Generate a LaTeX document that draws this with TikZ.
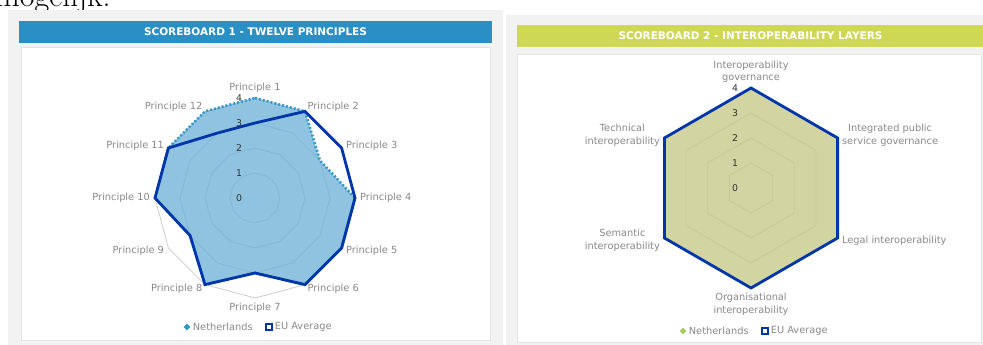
\documentclass[tikz,border=0pt]{standalone}
\usepackage{fontspec}
\setsansfont{DejaVu Sans}
\usepackage{tikz}
\usetikzlibrary{calc,positioning,shapes.geometric}
\definecolor{panelgray}{RGB}{242,242,242}
\definecolor{bluebar}{RGB}{41,143,196}
\definecolor{greenbar}{RGB}{206,216,84}
\definecolor{eublue}{RGB}{0,54,170}
\definecolor{nlblue}{RGB}{51,153,204}
\definecolor{nlbluefill}{RGB}{106,176,214}
\definecolor{nlgreen}{RGB}{168,204,100}
\definecolor{nlgreenfill}{RGB}{196,200,130}
\definecolor{labgray}{RGB}{137,137,137}
\definecolor{ringgray}{RGB}{205,205,205}
\tikzset{
  panel/.style={fill=panelgray, draw=none},
  inner/.style={fill=white, draw=black!10, line width=1pt},
  header/.style={text=white, font=\sffamily\bfseries\fontsize{10.5}{12}\selectfont, inner sep=0pt},
  lab/.style={text=labgray, font=\sffamily\fontsize{9.8}{12.5}\selectfont, inner sep=0pt, align=center},
  ticklab/.style={text=black!80, font=\sffamily\fontsize{9.3}{10}\selectfont, inner sep=0pt},
  ring/.style={draw=ringgray, line width=0.8pt},
  euline/.style={draw=eublue, line width=2.8pt},
  nlline/.style={draw=nlblue, line width=2.6pt, dash pattern=on 2pt off 2pt},
  nlmark/.style={diamond, fill=#1, inner sep=0pt, minimum size=7pt},
  eumark/.style={rectangle, draw=eublue, fill=white, line width=1.8pt, inner sep=0pt, minimum size=6pt}
}
\begin{document}
\begin{tikzpicture}[x=1pt,y=1pt]
\useasboundingbox (0,0) rectangle (983,345);
\fill[white] (0,0) rectangle (983,345);
\node (txt) [anchor=base west, inner sep=0pt] at (-5,338) {\fontsize{32}{38}\selectfont mogelijk.};
% scoreboard 1
\fill[panel] (8,0) rectangle (503,335);
\fill[bluebar] (19,302) rectangle (492,324);
\node (h1) [header] at (255.5,313) {SCOREBOARD 1 - TWELVE PRINCIPLES};
\filldraw[inner] (21,4) rectangle (490,297);
\coordinate (cl) at (255,147);
\foreach \k in {1,...,4}
  \draw[ring] ($(cl)+(90:{25*\k})$) \foreach \j in {1,...,11}{-- ($(cl)+({90-30*\j}:{25*\k})$)} -- cycle;
\foreach \v [count=\i] in {4,4,3,4,4,4,3,4,3,4,4,4}
  \coordinate (nl\i) at ($(cl)+({90-30*(\i-1)}:{25*\v})$);
\foreach \v [count=\i] in {3,4,4,4,4,4,3,4,3,4,4,3}
  \coordinate (eu\i) at ($(cl)+({90-30*(\i-1)}:{25*\v})$);
\fill[nlbluefill, fill opacity=0.75] (nl1) \foreach \i in {2,...,12}{-- (nl\i)} -- cycle;
\draw[nlline] (nl1) \foreach \i in {2,...,12}{-- (nl\i)} -- cycle;
\draw[euline] (eu1) \foreach \i in {2,...,12}{-- (eu\i)} -- cycle;
\foreach \k in {0,...,4}
  \node (tl\k) [ticklab] at ($(cl)+(-16,25*\k)$) {\k};
\foreach \i/\a in {1/south,2/west,3/west,4/west,5/west,6/west,7/north,8/east,9/east,10/east,11/east,12/east}
  \node (pr\i) [lab, anchor=\a] at ($(cl)+({90-30*(\i-1)}:105)$) {Principle \i};
\node (lm1) [nlmark=nlblue] at (187,18) {};
\node (lt1) [lab, right=2pt of lm1] {Netherlands};
\node (lm2) [eumark, right=12pt of lt1] {};
\node (lt2) [lab, right=2pt of lm2] {EU Average};
% scoreboard 2
\fill[panel] (506,0) rectangle (983,330);
\fill[greenbar] (517,298) rectangle (983,320);
\node (h2) [header] at (750.5,309) {SCOREBOARD 2 - INTEROPERABILITY LAYERS};
\filldraw[inner] (517,2) rectangle (981,290);
\coordinate (cr) at (751,157);
\foreach \k in {1,...,4}
  \draw[ring] ($(cr)+(90:{25*\k})$) \foreach \j in {1,...,5}{-- ($(cr)+({90-60*\j}:{25*\k})$)} -- cycle;
\foreach \v [count=\i] in {4,4,4,4,4,4}
  \coordinate (nr\i) at ($(cr)+({90-60*(\i-1)}:{25*\v})$);
\foreach \v [count=\i] in {4,4,4,4,4,4}
  \coordinate (er\i) at ($(cr)+({90-60*(\i-1)}:{25*\v})$);
\fill[nlgreenfill, fill opacity=0.75] (nr1) \foreach \i in {2,...,6}{-- (nr\i)} -- cycle;
\draw[euline] (er1) \foreach \i in {2,...,6}{-- (er\i)} -- cycle;
\foreach \k in {0,...,4}
  \node (tr\k) [ticklab] at ($(cr)+(-16,25*\k)$) {\k};
\foreach \i/\a/\t in {1/south/{Interoperability\\governance},2/west/{Integrated public\\service governance},3/west/{Legal interoperability},4/north/{Organisational\\interoperability},5/east/{Semantic\\interoperability},6/east/{Technical\\interoperability}}
  \node (ly\i) [lab, anchor=\a] at ($(cr)+({90-60*(\i-1)}:105)$) {\t};
\node (lm3) [nlmark=nlgreen] at (683,14) {};
\node (lt3) [lab, right=2pt of lm3] {Netherlands};
\node (lm4) [eumark, right=12pt of lt3] {};
\node (lt4) [lab, right=2pt of lm4] {EU Average};
\end{tikzpicture}
\end{document}
